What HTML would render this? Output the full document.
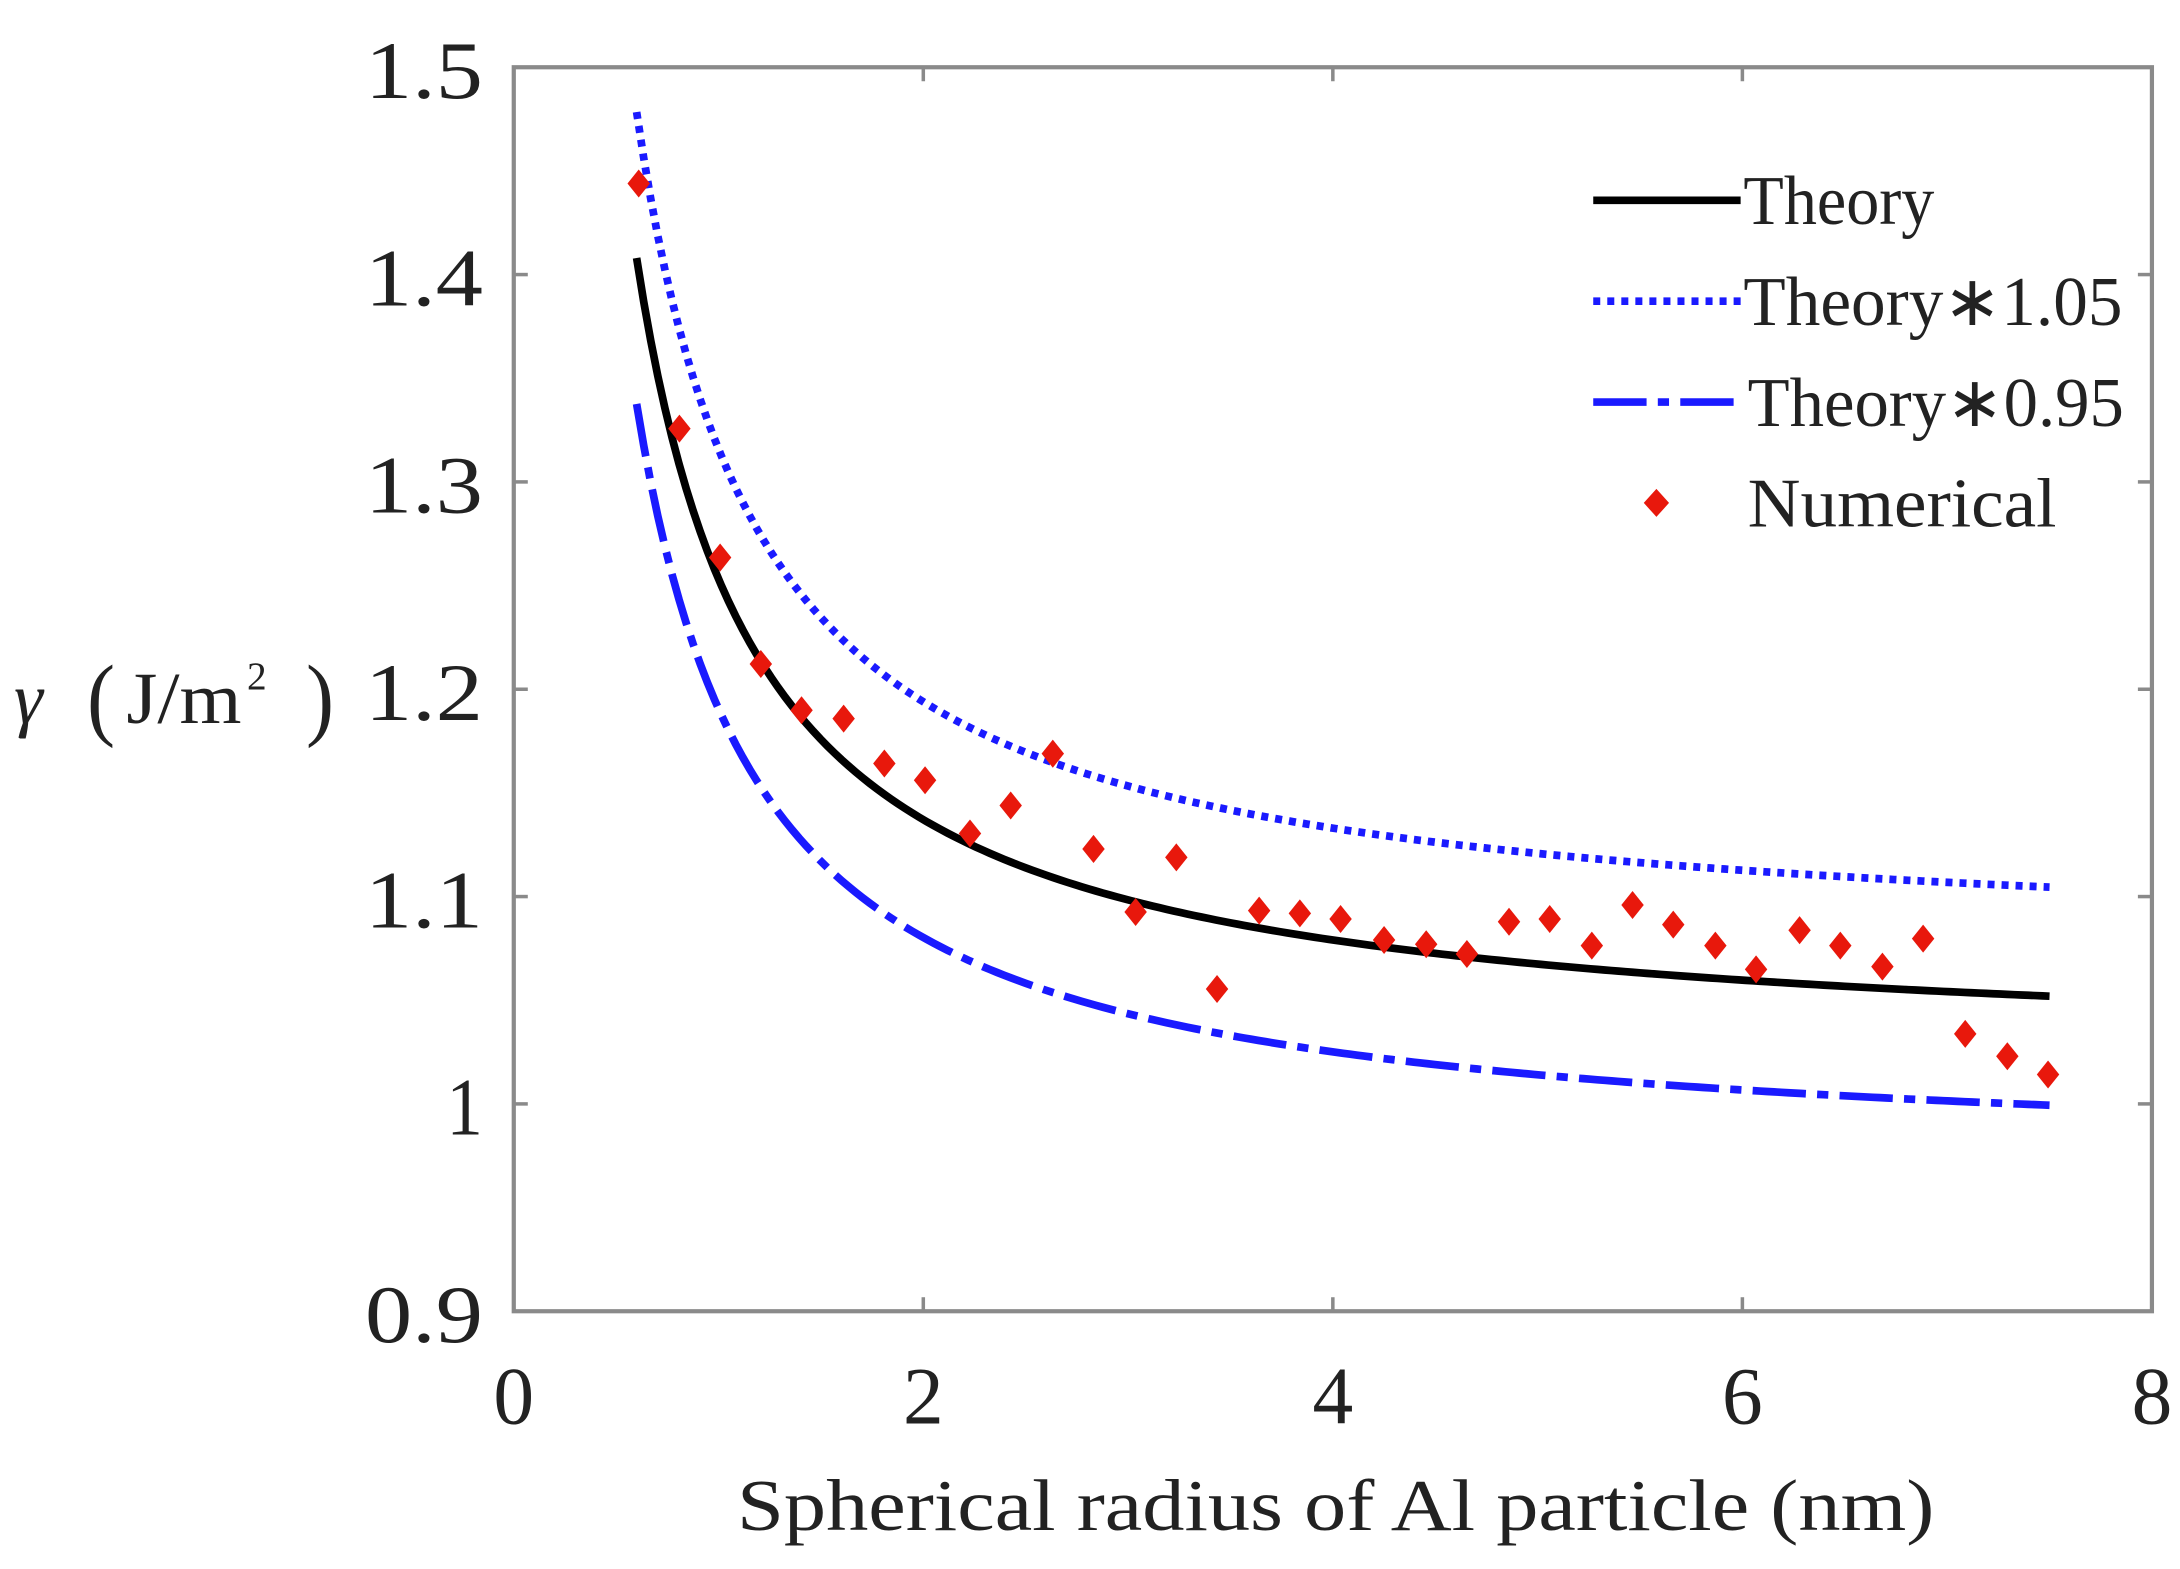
<!DOCTYPE html>
<html><head><meta charset="utf-8"><style>
html,body{margin:0;padding:0;background:#fff;}
svg{display:block;}
text{font-family:"Liberation Serif","Times New Roman",Times,serif;fill:#222;}
</style></head><body>
<svg width="2180" height="1569" viewBox="0 0 1553 1120" preserveAspectRatio="none" xmlns="http://www.w3.org/2000/svg">
<rect x="0" y="0" width="1553" height="1120" fill="#fff"/>
<g id="curves"></g>
<g id="pts" fill="#e8180c"></g>
<rect x="366" y="48" width="1167" height="888" fill="none" stroke="#8a8a8a" stroke-width="3"/>
<g stroke="#8a8a8a" stroke-width="2.5">
<line x1="657.75" y1="936" x2="657.75" y2="926"/><line x1="949.5" y1="936" x2="949.5" y2="926"/><line x1="1241.25" y1="936" x2="1241.25" y2="926"/>
<line x1="657.75" y1="48" x2="657.75" y2="58"/><line x1="949.5" y1="48" x2="949.5" y2="58"/><line x1="1241.25" y1="48" x2="1241.25" y2="58"/>
<line x1="366" y1="788" x2="376" y2="788"/><line x1="366" y1="640" x2="376" y2="640"/><line x1="366" y1="492" x2="376" y2="492"/><line x1="366" y1="344" x2="376" y2="344"/><line x1="366" y1="196" x2="376" y2="196"/>
<line x1="1533" y1="788" x2="1523" y2="788"/><line x1="1533" y1="640" x2="1523" y2="640"/><line x1="1533" y1="492" x2="1523" y2="492"/><line x1="1533" y1="344" x2="1523" y2="344"/><line x1="1533" y1="196" x2="1523" y2="196"/>
</g>
<g font-size="58" text-anchor="end">
<text x="344" y="70" textLength="84" lengthAdjust="spacingAndGlyphs">1.5</text>
<text x="344" y="218" textLength="84" lengthAdjust="spacingAndGlyphs">1.4</text>
<text x="344" y="366" textLength="84" lengthAdjust="spacingAndGlyphs">1.3</text>
<text x="344" y="514" textLength="84" lengthAdjust="spacingAndGlyphs">1.2</text>
<text x="344" y="662" textLength="84" lengthAdjust="spacingAndGlyphs">1.1</text>
<text x="344" y="810" textLength="26" lengthAdjust="spacingAndGlyphs">1</text>
<text x="344" y="958" textLength="84" lengthAdjust="spacingAndGlyphs">0.9</text>
</g>
<g font-size="58" text-anchor="middle">
<text x="366" y="1016">0</text><text x="657.75" y="1016">2</text><text x="949.5" y="1016">4</text><text x="1241.25" y="1016">6</text><text x="1533" y="1016">8</text>
</g>
<text x="525" y="1092" font-size="52" textLength="853" lengthAdjust="spacingAndGlyphs">Spherical radius of Al particle (nm)</text>
<text x="10" y="516" font-size="52" font-style="italic">γ</text>
<text x="62" y="520" font-size="66" textLength="20" lengthAdjust="spacingAndGlyphs">(</text>
<text x="90" y="516" font-size="52" textLength="82" lengthAdjust="spacingAndGlyphs">J/m</text>
<text x="176" y="492" font-size="28">2</text>
<text x="218" y="520" font-size="66" textLength="20" lengthAdjust="spacingAndGlyphs">)</text>
<g>
<line x1="1135" y1="143" x2="1240" y2="143" stroke="#000" stroke-width="5.5"/>
<line x1="1135" y1="215" x2="1240" y2="215" stroke="#1a1aff" stroke-width="5.5" stroke-dasharray="5,5"/>
<line x1="1135" y1="287" x2="1240" y2="287" stroke="#1a1aff" stroke-width="5.5" stroke-dasharray="38,8,8,8"/>
<path d="M1180 349 L1189 359 L1180 369 L1171 359 Z" fill="#e8180c"/>
</g>
<g font-size="50">
<text x="1242" y="160" textLength="136" lengthAdjust="spacingAndGlyphs">Theory</text>
<text x="1242" y="232" textLength="270" lengthAdjust="spacingAndGlyphs">Theory∗1.05</text>
<text x="1245" y="304" textLength="268" lengthAdjust="spacingAndGlyphs">Theory∗0.95</text>
<text x="1245" y="376" textLength="220" lengthAdjust="spacingAndGlyphs">Numerical</text>
</g>
<script>
(function(){
var ns="http://www.w3.org/2000/svg";
function X(r){return 366+145.875*r;}
function Y(g){return 936-1480*(g-0.9);}
function th(r){return 1.021+0.2322/r;}
function path(f){var d="";for(var i=0;i<=200;i++){var r=0.6+6.9*i/200;d+=(i?"L":"M")+X(r).toFixed(2)+" "+Y(f(r)).toFixed(2);}return d;}
var g=document.getElementById("curves");
[[function(r){return th(r)*1.05;},"#1a1aff","5,5"],[function(r){return th(r)*0.95;},"#1a1aff","38,8,8,8"],[th,"#000",""]].forEach(function(c){
var p=document.createElementNS(ns,"path");p.setAttribute("d",path(c[0]));p.setAttribute("fill","none");p.setAttribute("stroke",c[1]);p.setAttribute("stroke-width","5.5");if(c[2])p.setAttribute("stroke-dasharray",c[2]);g.appendChild(p);});
var P=[[455,131],[484,306],[513,398],[542,474],[571,507],[601,513],[630,545],[659,557],[691,595],[720,575],[750,538],[779,606],[809,651],[838,612],[867,706],[897,650],[926,652],[955,656],[986,671],[1016,674],[1045,681],[1075,658],[1104,656],[1134,675],[1163,646],[1192,660],[1222,675],[1251,692],[1282,664],[1311,675],[1341,690],[1370,670],[1400,738],[1430,754],[1459,767]];
var pg=document.getElementById("pts");
P.forEach(function(p){var e=document.createElementNS(ns,"path");e.setAttribute("d","M"+p[0]+" "+(p[1]-10)+" L"+(p[0]+8)+" "+p[1]+" L"+p[0]+" "+(p[1]+10)+" L"+(p[0]-8)+" "+p[1]+" Z");pg.appendChild(e);});
})();
</script>
</svg>
</body></html>
